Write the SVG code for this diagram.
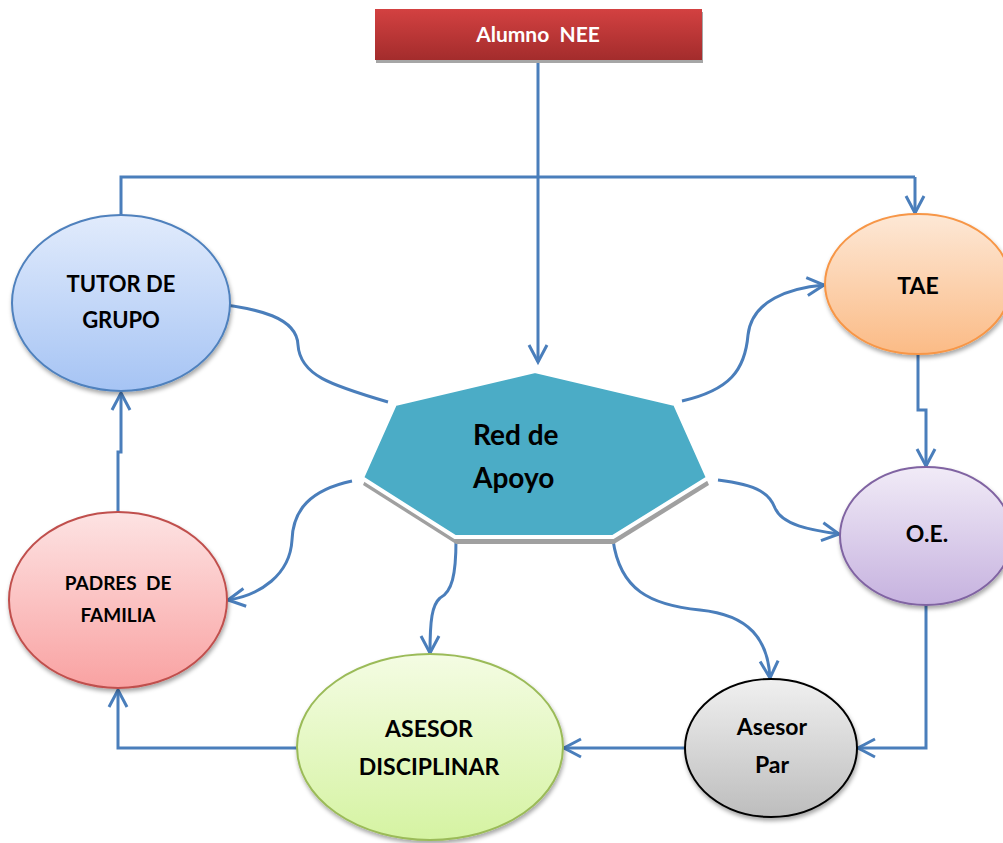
<svg xmlns="http://www.w3.org/2000/svg" width="1003" height="843" viewBox="0 0 1003 843">
<style>
.lbl{font-family:Lato,"Liberation Sans",Arial,sans-serif;font-weight:bold;fill:#000;text-anchor:middle;white-space:pre}
.con{fill:none;stroke:#4a7ebb;stroke-width:3;marker-end:url(#arr)}
.ln{fill:none;stroke:#4a7ebb;stroke-width:3}
</style>
<defs>
<marker id="arr" viewBox="-20 -12 24 24" refX="0" refY="0" markerWidth="24" markerHeight="24" markerUnits="userSpaceOnUse" orient="auto" overflow="visible">
<path d="M-17,-9 L0,0 L-17,9" fill="none" stroke="#4a7ebb" stroke-width="3" stroke-linejoin="miter"/>
</marker>
<filter id="sh" x="-20%" y="-20%" width="140%" height="150%">
<feDropShadow dx="1" dy="3" stdDeviation="2" flood-color="#000" flood-opacity="0.35"/>
</filter>
<linearGradient id="gRed" x1="0" y1="0" x2="0" y2="1"><stop offset="0" stop-color="#d34141"/><stop offset="1" stop-color="#a32c2c"/></linearGradient>
<linearGradient id="gBlue" x1="0" y1="0" x2="0" y2="1"><stop offset="0" stop-color="#e1ebfc"/><stop offset="1" stop-color="#a6c4f4"/></linearGradient>
<linearGradient id="gOr" x1="0" y1="0" x2="0" y2="1"><stop offset="0" stop-color="#fde8d6"/><stop offset="1" stop-color="#fbbb86"/></linearGradient>
<linearGradient id="gPu" x1="0" y1="0" x2="0" y2="1"><stop offset="0" stop-color="#f1ebf7"/><stop offset="1" stop-color="#c6b2df"/></linearGradient>
<linearGradient id="gPk" x1="0" y1="0" x2="0" y2="1"><stop offset="0" stop-color="#fde3e3"/><stop offset="1" stop-color="#f9a2a2"/></linearGradient>
<linearGradient id="gGr" x1="0" y1="0" x2="0" y2="1"><stop offset="0" stop-color="#f4fce3"/><stop offset="1" stop-color="#d5f3a2"/></linearGradient>
<linearGradient id="gGy" x1="0" y1="0" x2="0" y2="1"><stop offset="0" stop-color="#f0f0f0"/><stop offset="1" stop-color="#bdbdbd"/></linearGradient>
</defs>
<rect width="1003" height="843" fill="#fff"/>

<g id="connectors">
<polyline class="ln" points="121,215 121,177 915,177"/>
<polyline class="con" points="915,177 915,213"/>
<polyline class="con" points="538,60 538,362"/>
<polyline class="con" points="918,354 918,410 926,410 926,466"/>
<polyline class="con" points="118,513 118,452 121,452 121,393"/>
<polyline class="con" points="297,748 118,748 118,690"/>
<polyline class="con" points="685,748 564,748"/>
<polyline class="con" points="926,605 926,748 858,748"/>
<path class="con" d="M388,402 C330,385 300,375 298,345 C297,318 260,308 208,303"/>
<path class="con" d="M682,401 C730,390 745,370 748,335 C752,300 790,288 824,285"/>
<path class="con" d="M718,480 C760,485 770,495 775,508 C782,525 810,530 839,534"/>
<path class="con" d="M352,481 C310,490 293,510 292,540 C290,575 260,595 228,600"/>
<path class="con" d="M456,540 C456,575 452,592 440,598 C432,605 430,620 430,653"/>
<path class="con" d="M613,540 C620,590 650,605 700,610 C750,615 768,640 770,678"/>
</g>

<g id="alumno">
<rect x="376" y="12" width="327" height="51" fill="#a6a6a6"/>
<rect x="375" y="9" width="327" height="51" fill="url(#gRed)"/>
<text class="lbl" x="538" y="42" style="font-size:21px;fill:#fff">Alumno  NEE</text>
</g>

<g id="red-de-apoyo">
<polygon points="535,374 675,407 708,481 613,540 455,540 362,481 395,407" fill="#a0a0a0" transform="translate(1,4)"/>
<polygon points="535,371 675,404 708,478 613,537 455,537 362,478 395,404" fill="#4bacc6" stroke="#fff" stroke-width="4" stroke-linejoin="miter"/>
<text class="lbl" x="473" y="445" style="font-size:28px;text-anchor:start">Red de</text>
<text class="lbl" x="473" y="488" style="font-size:28px;text-anchor:start">Apoyo</text>
</g>

<g id="tutor">
<ellipse cx="121" cy="303" rx="109" ry="88" fill="url(#gBlue)" stroke="#4f81bd" stroke-width="2" filter="url(#sh)"/>
<text class="lbl" x="121" y="292" style="font-size:22px">TUTOR DE</text>
<text class="lbl" x="121" y="328" style="font-size:22px">GRUPO</text>
</g>

<g id="tae">
<ellipse cx="918" cy="284" rx="93" ry="70" fill="url(#gOr)" stroke="#f79646" stroke-width="2" filter="url(#sh)"/>
<text class="lbl" x="918" y="294" style="font-size:23px">TAE</text>
</g>

<g id="oe">
<ellipse cx="926" cy="536" rx="86" ry="69" fill="url(#gPu)" stroke="#8064a2" stroke-width="2" filter="url(#sh)"/>
<text class="lbl" x="927" y="542" style="font-size:23px">O.E.</text>
</g>

<g id="padres">
<ellipse cx="118" cy="600" rx="109" ry="88" fill="url(#gPk)" stroke="#c0504d" stroke-width="2" filter="url(#sh)"/>
<text class="lbl" x="118" y="590" style="font-size:19px">PADRES  DE</text>
<text class="lbl" x="118" y="622" style="font-size:19px">FAMILIA</text>
</g>

<g id="asesor-disciplinar">
<ellipse cx="430" cy="747" rx="133" ry="93" fill="url(#gGr)" stroke="#9bbb59" stroke-width="2" filter="url(#sh)"/>
<text class="lbl" x="429" y="737" style="font-size:23px">ASESOR</text>
<text class="lbl" x="429" y="775" style="font-size:23px">DISCIPLINAR</text>
</g>

<g id="asesor-par">
<ellipse cx="771" cy="748" rx="86" ry="69" fill="url(#gGy)" stroke="#000" stroke-width="2" filter="url(#sh)"/>
<text class="lbl" x="772" y="735" style="font-size:23px">Asesor</text>
<text class="lbl" x="772" y="773" style="font-size:23px">Par</text>
</g>
</svg>
